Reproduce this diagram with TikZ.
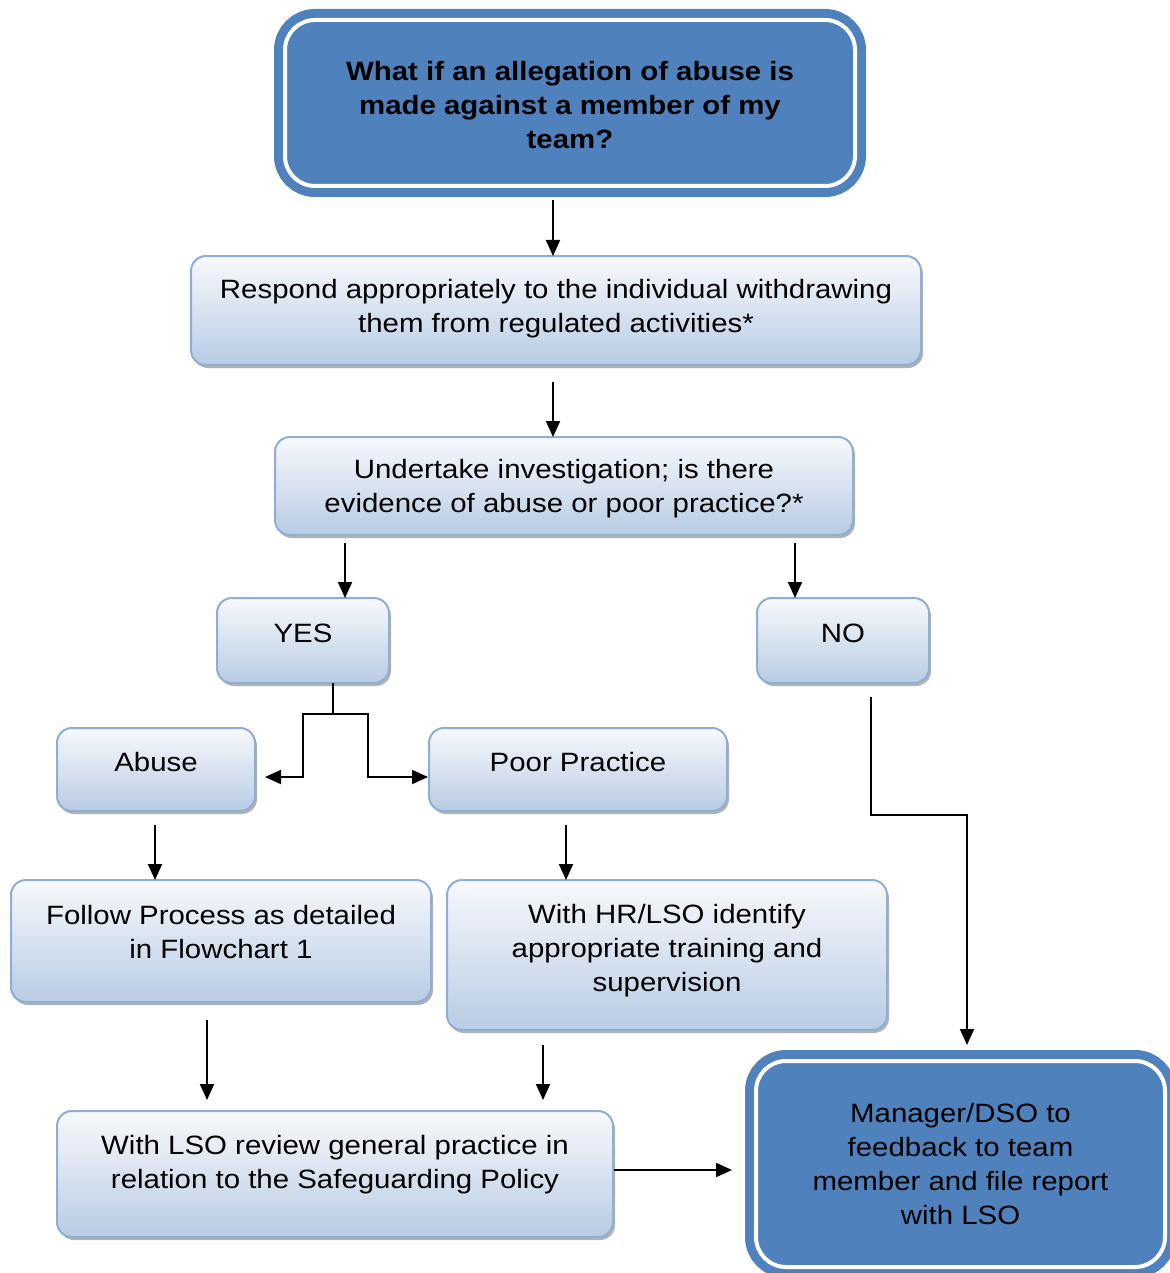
\documentclass[tikz,border=0pt]{standalone}
\usepackage{fontspec}
\setmainfont{Liberation Sans}[FakeStretch=1.11]
\usetikzlibrary{arrows.meta,calc,shadows}
\definecolor{dblue}{HTML}{4F81BD}
\definecolor{lborder}{HTML}{8EAED6}
\definecolor{gtop}{HTML}{F7F9FC}
\definecolor{gbot}{HTML}{B8CCE4}
\tikzset{
  box/.style={rectangle, rounded corners=15pt, draw=lborder, line width=2pt,
    top color=gtop, bottom color=gbot, outer sep=0pt, inner sep=0pt,
    drop shadow={shadow xshift=2pt, shadow yshift=-3pt, fill=gray!75, opacity=0.8}},
  bluebox/.style={rectangle, rounded corners=30pt, fill=dblue, draw=white, line width=4pt,
    preaction={draw=dblue, line width=22pt}, outer sep=0pt, inner sep=0pt},
  txt/.style={align=center, font=\fontsize{26.5pt}{34pt}\selectfont, inner sep=0pt, yshift=-2.5pt},
  btxt/.style={txt, font=\fontsize{26.5pt}{34pt}\selectfont\bfseries},
  arr/.style={line width=2pt, -{Triangle[length=16pt,width=14pt]}},
  conn/.style={line width=2pt}
}
\begin{document}
\begin{tikzpicture}[x=1pt,y=1pt]
\useasboundingbox (0,0) rectangle (1169,-1273);
% boxes
\node[bluebox, minimum width=570, minimum height=166] (top) at (570,-103) {};
\node[btxt] at (top.center) {What if an allegation of abuse is\\made against a member of my\\team?};
\node[box, minimum width=730, minimum height=109] (resp) at (556,-310.5) {};
\node[txt] at ($(resp.center)+(0,4.5)$) {Respond appropriately to the individual withdrawing\\them from regulated activities*};
\node[box, minimum width=578, minimum height=98] (inv) at (564,-486) {};
\node[txt] at (inv.center) {Undertake investigation; is there\\evidence of abuse or poor practice?*};
\node[box, minimum width=172, minimum height=85] (yes) at (303,-640.5) {};
\node[txt] at ($(yes.center)+(0,10)$) {YES};
\node[box, minimum width=172, minimum height=85] (no) at (843,-640.5) {};
\node[txt] at ($(no.center)+(0,10)$) {NO};
\node[box, minimum width=198, minimum height=83] (abuse) at (156,-769.5) {};
\node[txt] at ($(abuse.center)+(0,9.5)$) {Abuse};
\node[box, minimum width=298, minimum height=83] (poor) at (578,-769.5) {};
\node[txt] at ($(poor.center)+(0,9.5)$) {Poor Practice};
\node[box, minimum width=420, minimum height=122] (follow) at (221,-941) {};
\node[txt] at ($(follow.center)+(0,11.5)$) {Follow Process as detailed\\in Flowchart 1};
\node[box, minimum width=440, minimum height=150] (hr) at (667,-955) {};
\node[txt] at ($(hr.center)+(0,7)$) {With HR/LSO identify\\appropriate training and\\supervision};
\node[box, minimum width=556, minimum height=126] (review) at (335,-1174) {};
\node[txt] at ($(review.center)+(0,12)$) {With LSO review general practice in\\relation to the Safeguarding Policy};
\node[bluebox, minimum width=409, minimum height=206] (mgr) at (960.5,-1164) {};
\node[txt] at ($(mgr.center)+(0,2.5)$) {Manager/DSO to\\feedback to team\\member and file report\\with LSO};
% connectors
\draw[arr] ($(resp.north)+(-3,56)$) -- ($(resp.north)+(-3,0)$);
\draw[arr] ($(inv.north)+(-11,55)$) -- ($(inv.north)+(-11,0)$);
\draw[arr] ($(yes.north)+(42,55)$) -- ($(yes.north)+(42,0)$);
\draw[arr] ($(no.north)+(-48,55)$) -- ($(no.north)+(-48,0)$);
\draw[conn] ($(yes.south)+(30,0)$) -- ($(yes.south)+(30,-31)$);
\draw[arr] ($(yes.south)+(30,-31)$) -- ($(yes.south)+(0,-31)$) |- ($(abuse.east)+(10,-7.5)$);
\draw[arr] ($(yes.south)+(30,-31)$) -- ($(yes.south)+(65,-31)$) |- ($(poor.west)+(-1,-7.5)$);
\draw[arr] ($(follow.north)+(-66,55)$) -- ($(follow.north)+(-66,0)$);
\draw[arr] ($(hr.north)+(-101,55)$) -- ($(hr.north)+(-101,0)$);
\draw[arr] ($(review.north)+(-128,91)$) -- ($(review.north)+(-128,11)$);
\draw[arr] ($(review.north)+(208,66)$) -- ($(review.north)+(208,11)$);
\draw[arr] ($(review.east)+(1,4)$) -- ($(mgr.west)+(-24,-6)$);
\draw[arr] ($(no.south)+(28,-14)$) |- ($(mgr.north)+(6.5,246)$) -- ($(mgr.north)+(6.5,16)$);
\end{tikzpicture}
\end{document}
